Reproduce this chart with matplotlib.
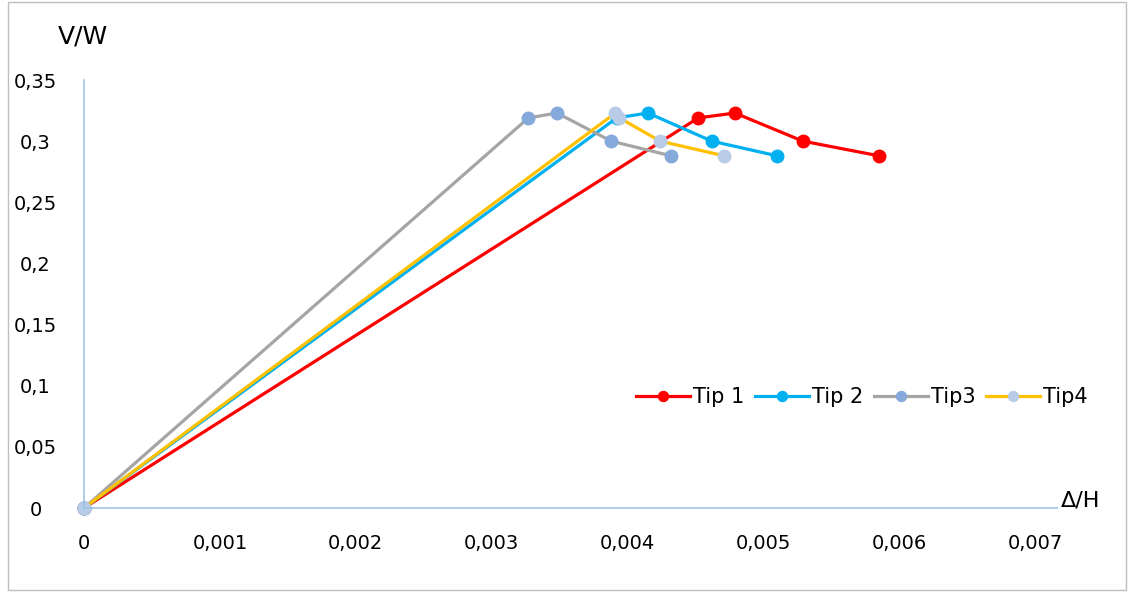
import matplotlib
matplotlib.use("Agg")
import matplotlib.pyplot as plt
from matplotlib.ticker import FuncFormatter, MultipleLocator
from matplotlib.patches import Rectangle

# ========= Data =========
tip1_x = [0, 0.00452, 0.00479, 0.00529, 0.00585]
tip1_y = [0, 0.319, 0.323, 0.300, 0.288]

tip2_x = [0, 0.00392, 0.00415, 0.00462, 0.00510]
tip2_y = [0, 0.319, 0.323, 0.300, 0.288]

tip3_x = [0, 0.00327, 0.00348, 0.00388, 0.00432]
tip3_y = [0, 0.319, 0.323, 0.300, 0.288]

tip4_x = [0, 0.00391, 0.00394, 0.00424, 0.00471]
tip4_y = [0, 0.323, 0.319, 0.300, 0.288]

plt.rcParams['font.family'] = ['DejaVu Sans']

fig = plt.figure(figsize=(11.28, 5.92), dpi=100)
W, H = 1128, 592
ax = fig.add_axes([84 / W, 1 - 508 / H, (1057 - 84) / W, (508 - 80) / H])

# outer chart frame
fig.patches.append(Rectangle((8 / W, 2 / H), 1 - 10 / W, 1 - 4 / H, transform=fig.transFigure,
                             fill=False, edgecolor="#BFBFBF", linewidth=1))

ms = 9
ax.plot(tip1_x, tip1_y, color="#FF0000", lw=2.3, marker="o", ms=ms,
        mfc="#FF0000", mec="#FF0000", label="Tip 1", clip_on=False)
ax.plot(tip2_x, tip2_y, color="#00B0F0", lw=2.3, marker="o", ms=ms,
        mfc="#00B0F0", mec="#00B0F0", label="Tip 2", clip_on=False)
ax.plot(tip3_x, tip3_y, color="#A5A5A5", lw=2.3, marker="o", ms=ms,
        mfc="#85A9DB", mec="#85A9DB", label="Tip3", clip_on=False)
ax.plot(tip4_x, tip4_y, color="#FFC000", lw=2.3, marker="o", ms=ms,
        mfc="#B8CCE8", mec="#B8CCE8", label="Tip4", clip_on=False)

ax.set_xlim(0, 0.00716)
ax.set_ylim(0, 0.35)
ax.xaxis.set_major_locator(MultipleLocator(0.001))
ax.yaxis.set_major_locator(MultipleLocator(0.05))

def comma(v, pos):
    s = ("%.3f" % v).rstrip("0").rstrip(".")
    return s.replace(".", ",")

ax.xaxis.set_major_formatter(FuncFormatter(comma))
ax.yaxis.set_major_formatter(FuncFormatter(comma))

for s in ["top", "right"]:
    ax.spines[s].set_visible(False)
for s in ["left", "bottom"]:
    ax.spines[s].set_color("#9DC3E6")
    ax.spines[s].set_linewidth(1.2)

ax.tick_params(axis="both", length=0, labelsize=14, colors="black")
ax.tick_params(axis="x", pad=19)
ax.tick_params(axis="y", pad=35)
for lbl in ax.get_yticklabels():
    lbl.set_horizontalalignment("center")

fig.text(83 / W, 1 - 37 / H, "V/W", fontsize=18, ha="center", va="center")
fig.text(1081 / W, 1 - 500 / H, "Δ/H", fontsize=16, ha="center", va="center")

ax.legend(loc="center", bbox_to_anchor=(862 / W, 1 - 397 / H), bbox_transform=fig.transFigure,
          ncol=4, frameon=False, fontsize=15, handlelength=2.6, handletextpad=0.15,
          columnspacing=0.5, markerscale=0.8)

fig.savefig("out.png", dpi=100)
